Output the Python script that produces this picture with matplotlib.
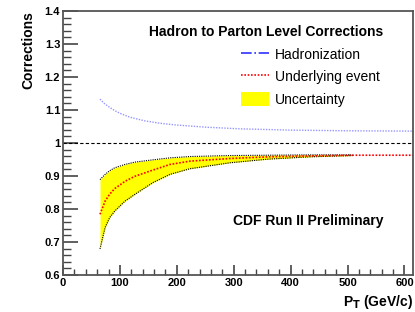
import matplotlib
matplotlib.use("Agg")
from matplotlib import pyplot as plt
from matplotlib.lines import Line2D
from matplotlib.patches import Patch
from matplotlib.ticker import MultipleLocator

plt.rcParams["font.family"] = ["Liberation Sans", "DejaVu Sans"]

# hadronization correction
had_pt = [65, 73, 82, 91, 100, 118, 144, 170, 196, 250, 310, 400, 500, 615]
had_corr = [1.133, 1.119, 1.108, 1.098, 1.090, 1.078, 1.067, 1.060, 1.055, 1.048, 1.043, 1.039, 1.037, 1.036]

# underlying event correction
ue_pt = [65, 74, 82, 91, 109, 126, 158, 188, 223, 293, 360, 433, 509, 615]
ue_corr = [0.784, 0.824, 0.845, 0.862, 0.884, 0.899, 0.918, 0.935, 0.945, 0.953, 0.958, 0.961, 0.963, 0.963]

# uncertainty band
band_pt = [65, 74, 82, 91, 109, 126, 158, 188, 223, 293, 360, 433, 509]
band_hi = [0.889, 0.905, 0.916, 0.925, 0.935, 0.942, 0.949, 0.955, 0.959, 0.962, 0.963, 0.964, 0.964]
band_lo = [0.679, 0.744, 0.774, 0.794, 0.824, 0.844, 0.880, 0.905, 0.922, 0.940, 0.951, 0.958, 0.962]

W, H = 415, 312

def fx(px):
  return px / W

def fy(py):
  return 1 - py / H

fig = plt.figure(figsize=(W / 100, H / 100), dpi=100)
ax = fig.add_axes([fx(63), fy(275), (413 - 63) / W, (275 - 11) / H])

ax.fill_between(band_pt, band_lo, band_hi, color="#ffff00", lw=0)
ax.plot(band_pt, band_hi, color="black", lw=0.8, ls=(0, (1, 1)))
ax.plot(band_pt, band_lo, color="black", lw=0.8, ls=(0, (1, 1)))
ax.plot(ue_pt, ue_corr, color="red", lw=1.2, ls=(0, (1, 1)))
ax.plot(had_pt, had_corr, color="#5050ff", lw=1.0, ls=(0, (1, 1)), alpha=0.6)
ax.axhline(1.0, color="black", lw=0.8, ls=(0, (3, 2)))

ax.set_xlim(0, 615)
ax.set_ylim(0.6, 1.4)
ax.xaxis.set_major_locator(MultipleLocator(100))
ax.xaxis.set_minor_locator(MultipleLocator(20))
ax.yaxis.set_minor_locator(MultipleLocator(0.02))
ax.set_yticks([0.6, 0.7, 0.8, 0.9, 1.0, 1.1, 1.2, 1.3, 1.4])
ax.set_yticklabels(["0.6", "0.7", "0.8", "0.9", "1", "1.1", "1.2", "1.3", "1.4"])
ax.tick_params(axis="both", which="both", direction="in", top=False, right=False,
               labelsize=8, color="#444444")
ax.tick_params(axis="y", which="major", length=11, width=1.2, pad=2)
ax.tick_params(axis="y", which="minor", length=6, width=1)
ax.tick_params(axis="x", which="major", length=7, width=1.2, pad=2)
ax.tick_params(axis="x", which="minor", length=4, width=1)
for lab in ax.get_xticklabels() + ax.get_yticklabels():
  lab.set_fontweight("bold")
for sp in ax.spines.values():
  sp.set_color("#555555")
  sp.set_linewidth(1.3)

fig.text(fx(28), fy(11), "Corrections", rotation=90, ha="center", va="top",
         fontsize=10, fontweight="bold")
fig.text(fx(413), fy(302), "P$_\\mathbf{T}$ (GeV/c)", ha="right", va="center",
         fontsize=10, fontweight="bold")

fig.text(fx(266), fy(32), "Hadron to Parton Level Corrections", ha="center", va="center",
         fontsize=10, fontweight="bold")
fig.text(fx(308), fy(221), "CDF Run II Preliminary", ha="center", va="center",
         fontsize=10, fontweight="bold")

handles = [
  Line2D([], [], color="#3030ff", lw=1.2, ls="-."),
  Line2D([], [], color="red", lw=1.2, ls=(0, (1, 1))),
  Patch(facecolor="#ffff00", edgecolor="none"),
]
ax.legend(handles, ["Hadronization", "Underlying event", "Uncertainty"],
          loc="upper left", bbox_to_anchor=(fx(241), fy(47)), bbox_transform=fig.transFigure,
          frameon=False, fontsize=10, handlelength=2.0, handleheight=1.2,
          handletextpad=0.45, labelspacing=0.55, borderpad=0, borderaxespad=0)

fig.savefig("out.png", dpi=100)
